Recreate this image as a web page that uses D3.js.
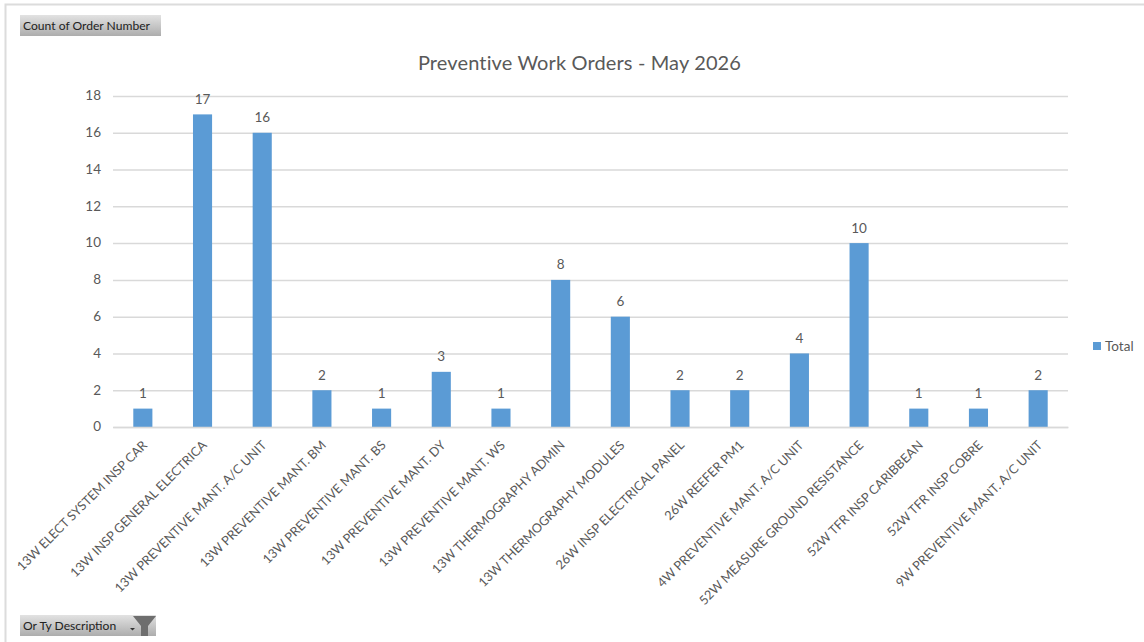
<!DOCTYPE html>
<html><head><meta charset="utf-8">
<script src="https://cdn.jsdelivr.net/npm/d3@7/dist/d3.min.js"></script>
<style>html,body{margin:0;padding:0;background:#fff;overflow:hidden}svg{display:block;font-family:Lato,"Open Sans",sans-serif}</style>
</head><body><svg id="c" width="1144" height="642"></svg>
<script>
const categories = ["13W ELECT SYSTEM INSP CAR","13W INSP GENERAL ELECTRICA","13W PREVENTIVE MANT. A/C UNIT","13W PREVENTIVE MANT. BM","13W PREVENTIVE MANT. BS","13W PREVENTIVE MANT. DY","13W PREVENTIVE MANT. WS","13W THERMOGRAPHY ADMIN","13W THERMOGRAPHY MODULES","26W INSP ELECTRICAL PANEL","26W REEFER PM1","4W PREVENTIVE MANT. A/C UNIT","52W MEASURE GROUND RESISTANCE","52W TFR INSP CARIBBEAN","52W TFR INSP COBRE","9W PREVENTIVE MANT. A/C UNIT"];
const totals = [1,17,16,2,1,3,1,8,6,2,2,4,10,1,1,2];
const yTicks = [0,2,4,6,8,10,12,14,16,18];
const chartTitle = "Preventive Work Orders - May 2026";
const seriesName = "Total";
const valueField = "Count of Order Number";
const filterField = "Or Ty Description";

const svg = d3.select("#c");
const L=113,R=1068,T=96,B=427;
const x = d3.scaleBand().domain(categories).range([L,R]).paddingInner(0.68).paddingOuter(0.34);
const y = d3.scaleLinear().domain([0,18]).range([B,T]);
const textCol="#595959", gridCol="#d9d9d9", barCol="#5b9bd5";

const defs=svg.append("defs");
const g=defs.append("linearGradient").attr("id","btn").attr("x1",0).attr("x2",0).attr("y1",0).attr("y2",1);
g.append("stop").attr("offset",0).attr("stop-color","#e2e2e2");
g.append("stop").attr("offset",1).attr("stop-color","#adadad");

// frame
svg.append("path").attr("d","M5.5 642V4.5H1144").attr("fill","none").attr("stroke","#dcdcdc").attr("stroke-width",2);

// title
svg.append("text").attr("x",579.5).attr("y",69.5).attr("text-anchor","middle").attr("font-size",20).attr("fill",textCol).attr("letter-spacing",0.13).text(chartTitle);

// grid + y axis
const yAxis = d3.axisLeft(y).tickValues(yTicks).tickSize(-(R-L)).tickPadding(12);
const ga = svg.append("g").attr("transform",`translate(${L},0)`).call(yAxis);
ga.select(".domain").remove();
ga.selectAll(".tick line").attr("stroke",gridCol).attr("stroke-width",1.5);
ga.selectAll(".tick text").attr("fill",textCol).attr("font-size",13.5).attr("font-family","Lato,sans-serif").attr("dy","0.28em");

// bars
svg.selectAll("rect.bar").data(totals).join("rect").attr("class","bar")
 .attr("x",(d,i)=>x(categories[i])).attr("width",x.bandwidth())
 .attr("y",d=>y(d)).attr("height",d=>B-y(d)).attr("fill",barCol);

// data labels
svg.selectAll("text.dl").data(totals).join("text").attr("class","dl")
 .attr("x",(d,i)=>x(categories[i])+x.bandwidth()/2).attr("y",d=>y(d)-10.5)
 .attr("text-anchor","middle").attr("font-size",13.5).attr("fill",textCol).text(d=>d);

// x labels
const xAxis = d3.axisBottom(x).tickSize(0).tickPadding(0);
const gx = svg.append("g").attr("transform",`translate(0,${B})`).call(xAxis);
gx.select(".domain").attr("stroke",gridCol).attr("stroke-width",1.5);
gx.selectAll(".tick text").attr("fill",textCol).attr("font-size",12.7).attr("font-family","Lato,sans-serif")
 .attr("text-anchor","end").attr("dy",0).attr("y",0)
 .attr("transform","translate(5,19) rotate(-45)");

// legend
svg.append("rect").attr("x",1093).attr("y",342).attr("width",8).attr("height",8).attr("fill",barCol);
svg.append("text").attr("x",1105).attr("y",351).attr("font-size",13.5).attr("fill",textCol).text(seriesName);

// field buttons
svg.append("rect").attr("x",20).attr("y",15).attr("width",141).attr("height",21).attr("fill","url(#btn)");
svg.append("text").attr("x",23).attr("y",30).attr("font-size",12.1).attr("fill","#222").text(valueField);
svg.append("rect").attr("x",20).attr("y",615).attr("width",136).attr("height",21).attr("fill","url(#btn)");
svg.append("text").attr("x",23).attr("y",630).attr("font-size",12.1).attr("fill","#222").text(filterField);
svg.append("path").attr("d","M133 616H156L148 626V636H141V626Z").attr("fill","#6e6e6e");
svg.append("path").attr("d","M130 628H135L132.5 630.5Z").attr("fill","#333");
</script></body></html>
